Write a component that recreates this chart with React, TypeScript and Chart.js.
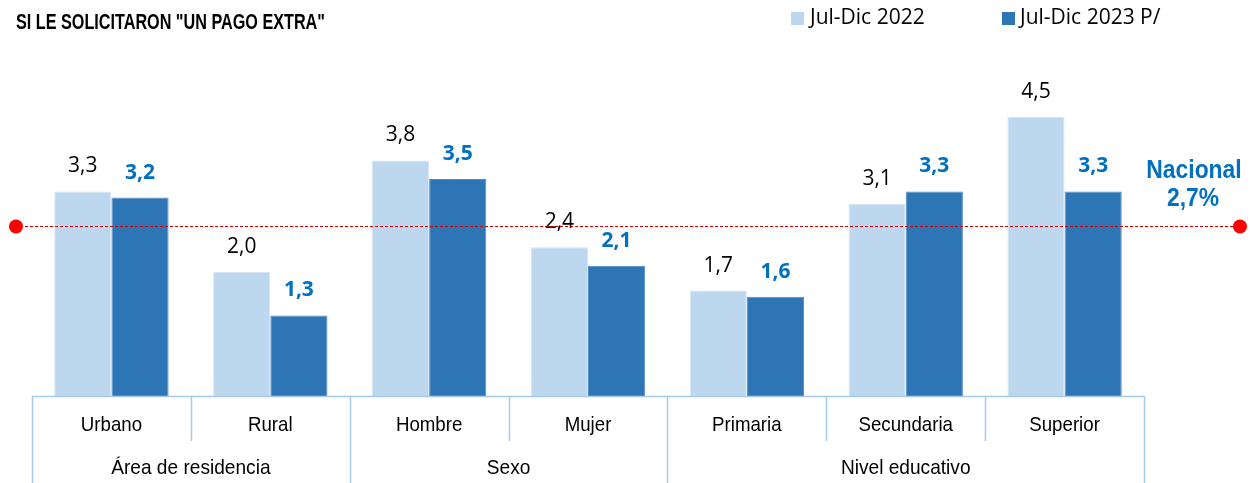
import React, { useEffect, useRef } from "react";
import { Chart, registerables } from "chart.js";

Chart.register(...registerables);

const categories = ["Urbano", "Rural", "Hombre", "Mujer", "Primaria", "Secundaria", "Superior"];
const series2022 = [3.3, 2.0, 3.8, 2.4, 1.7, 3.1, 4.5];
const series2023 = [3.2, 1.3, 3.5, 2.1, 1.6, 3.3, 3.3];
const groupLabels = ["Área de residencia", "Sexo", "Nivel educativo"];
const groupSpans = [2, 2, 3];
const nationalValue = 2.7;
const seriesNames = ["Jul-Dic 2022", "Jul-Dic 2023 P/"];
const titleText = 'SI LE SOLICITARON "UN PAGO EXTRA"';

const LIGHT = "#BDD7EE";
const DARK = "#2E75B6";
const BLUE_TXT = "#0070C0";
const SEP = "#A6CAEC";
const SANS = '"Liberation Sans", Arial, sans-serif';
const BODY = '"Open Sans", "Noto Sans", sans-serif';

const fmt = (v: number) => v.toFixed(1).replace(".", ",");

function condensed(
  ctx: CanvasRenderingContext2D,
  text: string,
  x: number,
  y: number,
  font: string,
  sx: number,
  align: CanvasTextAlign = "center"
) {
  ctx.save();
  ctx.font = font;
  ctx.textAlign = align;
  ctx.textBaseline = "middle";
  ctx.translate(x, y);
  ctx.scale(sx, 1);
  ctx.fillText(text, 0, 0);
  ctx.restore();
}

const overlay = {
  id: "overlay",
  afterDatasetsDraw(chart: any) {
    const ctx = chart.ctx as CanvasRenderingContext2D;
    const area = chart.chartArea;
    const xs = chart.scales.x;
    const ys = chart.scales.y;
    ctx.save();

    // data labels
    const m0 = chart.getDatasetMeta(0);
    const m1 = chart.getDatasetMeta(1);
    ctx.textAlign = "center";
    ctx.textBaseline = "middle";
    m0.data.forEach((el: any, i: number) => {
      ctx.fillStyle = "#000";
      ctx.font = `21px ${BODY}`;
      ctx.fillText(fmt(series2022[i]), el.x, el.y - 25);
    });
    m1.data.forEach((el: any, i: number) => {
      ctx.fillStyle = BLUE_TXT;
      ctx.font = `bold 21px ${BODY}`;
      ctx.fillText(fmt(series2023[i]), el.x, el.y - 25);
    });

    // national reference line
    const yn = Math.round(ys.getPixelForValue(nationalValue) - 3) + 0.5;
    ctx.strokeStyle = "#D40000";
    ctx.lineWidth = 1;
    ctx.setLineDash([3, 2]);
    ctx.beginPath();
    ctx.moveTo(20, yn);
    ctx.lineTo(1236, yn);
    ctx.stroke();
    ctx.setLineDash([]);
    ctx.fillStyle = "#FF0000";
    [16, 1240].forEach((cx) => {
      ctx.beginPath();
      ctx.arc(cx, yn, 7, 0, Math.PI * 2);
      ctx.fill();
    });
    ctx.fillStyle = BLUE_TXT;
    condensed(ctx, "Nacional", 1194, 171, `bold 26px ${SANS}`, 0.88);
    condensed(ctx, fmt(nationalValue) + "%", 1193, 199, `bold 26px ${SANS}`, 0.88);

    // axis & separators
    const step = (area.right - area.left) / categories.length;
    ctx.strokeStyle = SEP;
    ctx.lineWidth = 1.5;
    ctx.beginPath();
    ctx.moveTo(area.left, area.bottom + 0.5);
    ctx.lineTo(area.right, area.bottom + 0.5);
    ctx.stroke();
    const groupEdges = new Set<number>();
    let acc = 0;
    groupEdges.add(0);
    groupSpans.forEach((s) => {
      acc += s;
      groupEdges.add(acc);
    });
    for (let i = 0; i <= categories.length; i++) {
      const x = Math.round(area.left + i * step) + 0.5;
      ctx.beginPath();
      ctx.moveTo(x, area.bottom);
      ctx.lineTo(x, groupEdges.has(i) ? 483 : area.bottom + 45);
      ctx.stroke();
    }

    // category labels
    ctx.fillStyle = "#000";
    categories.forEach((c, i) => {
      condensed(ctx, c, xs.getPixelForValue(i), area.bottom + 29, `21px ${SANS}`, 0.89);
    });
    // group labels
    let start = 0;
    groupLabels.forEach((g, gi) => {
      const cx = area.left + (start + groupSpans[gi] / 2) * step;
      condensed(ctx, g, cx, area.bottom + 72, `21px ${SANS}`, 0.91);
      start += groupSpans[gi];
    });

    // title
    ctx.textAlign = "left";
    ctx.textBaseline = "middle";
    ctx.font = `bold 22px ${SANS}`;
    ctx.fillText(titleText, 16, 23, 309);

    // legend
    ctx.font = `21px ${BODY}`;
    ctx.fillStyle = LIGHT;
    ctx.fillRect(791, 12, 13, 13);
    ctx.fillStyle = DARK;
    ctx.fillRect(1002, 12, 13, 13);
    ctx.fillStyle = "#000";
    ctx.fillText(seriesNames[0], 810, 18);
    ctx.fillText(seriesNames[1], 1020, 18);

    ctx.restore();
  },
};

export default function App() {
  const ref = useRef<HTMLCanvasElement | null>(null);
  useEffect(() => {
    document.body.style.margin = "0";
    if (!ref.current) return;
    const chart = new Chart(ref.current, {
      type: "bar",
      data: {
        labels: categories,
        datasets: [
          {
            label: seriesNames[0],
            data: series2022,
            backgroundColor: LIGHT,
            borderColor: "#D6E6F5",
            borderWidth: 1,
            categoryPercentage: 0.72,
            barPercentage: 1,
          },
          {
            label: seriesNames[1],
            data: series2023,
            backgroundColor: DARK,
            borderColor: "#4F8CC6",
            borderWidth: 1,
            categoryPercentage: 0.72,
            barPercentage: 1,
          },
        ],
      },
      options: {
        responsive: false,
        animation: false,
        devicePixelRatio: 1,
        layout: { padding: { left: 32, right: 106, top: 24, bottom: 87 } },
        scales: {
          x: { display: false },
          y: { display: false, min: 0, max: 6 },
        },
        plugins: { legend: { display: false }, tooltip: { enabled: false }, title: { display: false } },
      },
      plugins: [overlay],
    });
    return () => chart.destroy();
  }, []);
  return (
    <div style={{ width: 1250, height: 483 }}>
      <canvas ref={ref} width={1250} height={483} style={{ display: "block" }} />
    </div>
  );
}
